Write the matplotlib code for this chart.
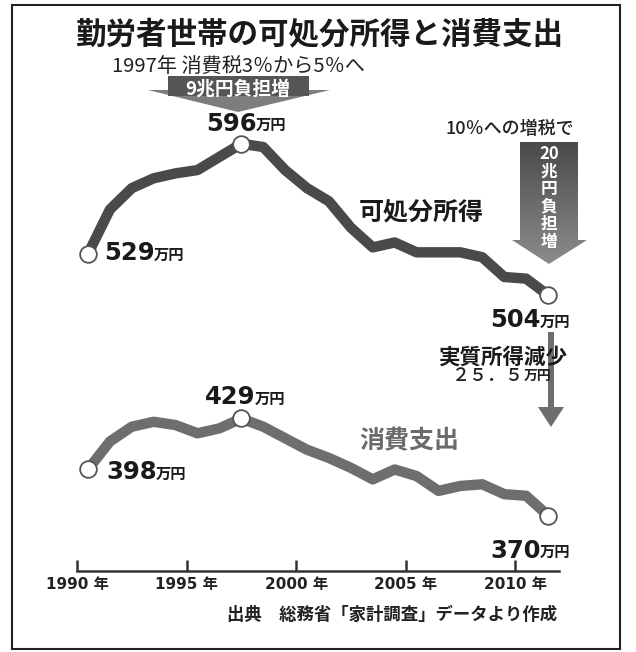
import numpy as np
import matplotlib
matplotlib.use('Agg')
import matplotlib.pyplot as plt
from matplotlib.patches import Polygon, Rectangle
from matplotlib.colors import LinearSegmentedColormap

plt.rcParams['font.family'] = ['Noto Sans CJK JP', 'DejaVu Sans']

# data (万円)
years = list(range(1990, 2012))
income = [529, 556, 569, 575, 578, 580, 588, 596, 594, 580, 569,
          561, 545, 533, 536, 530, 530, 530, 527, 515, 514, 504]
spending = [398, 415, 424, 427, 425, 420, 423, 429, 424, 417, 410,
            405, 399, 392, 398, 394, 385, 388, 389, 383, 382, 370]
tick_years = [1990, 1995, 2000, 2005, 2010]
tick_labels = ['1990 年', '1995 年', '2000 年', '2005 年', '2010 年']
marked = [1990, 1997, 2011]

W, H = 636, 652
fig = plt.figure(figsize=(W / 100, H / 100), dpi=100)
fig.patch.set_facecolor('white')

# main axes: x axis line at y=571px, from x=77px to 559px
ax = fig.add_axes([77 / W, (H - 571) / H, (559 - 77) / W, (571 - 60) / H])
ax.set_xlim(1989.5, 2011.5)
ax.set_ylim(336.3, 646.9)
ax.patch.set_visible(False)
for s in ['left', 'right', 'top']:
    ax.spines[s].set_visible(False)
ax.spines['bottom'].set_color('#333333')
ax.spines['bottom'].set_linewidth(1.8)
ax.set_yticks([])
ax.set_xticks([y - 0.5 for y in tick_years])
ax.set_xticklabels(tick_labels, family=['DejaVu Sans', 'Noto Sans CJK JP'],
                   fontweight='bold', fontsize=11, color='#222222')
ax.tick_params(axis='x', direction='in', length=8, width=1.8, pad=4, color='#333333')

ax.plot(years, income, color='#4a4a4a', lw=7.5, solid_joinstyle='round',
        solid_capstyle='round', clip_on=False, zorder=2)
ax.plot(years, spending, color='#6e6e6e', lw=7.5, solid_joinstyle='round',
        solid_capstyle='round', clip_on=False, zorder=2)

for series in [income, spending]:
    mx = [y for y in years if y in marked]
    my = [series[years.index(y)] for y in mx]
    ax.plot(mx, my, 'o', ms=12, mfc='white', mec='#555555', mew=1.3,
            clip_on=False, zorder=4)


def value_label(year, series, dx, dy):
    v = series[years.index(year)]
    t = ax.annotate(str(v), (year, v), xytext=(dx, dy), textcoords='offset pixels',
                    ha='left', va='center', fontsize=17.5, fontweight='bold',
                    family='DejaVu Sans', color='#1a1a1a', zorder=6,
                    annotation_clip=False)
    ax.annotate('万円', xy=(1, 0.1), xycoords=t, xytext=(-1, 0),
                textcoords='offset pixels', ha='left', va='bottom',
                fontsize=11, fontweight='bold', color='#1a1a1a',
                annotation_clip=False)


value_label(1990, income, 16, 1)
value_label(1997, income, -35, 20)
value_label(2011, income, -58, -25)
value_label(1990, spending, 18, -3)
value_label(1997, spending, -36, 21)
value_label(2011, spending, -58, -35)

# overlay in reference pixels for the frame, arrows and notes
deco = fig.add_axes([0, 0, 1, 1])
deco.axis('off')


def grad_poly(verts, c_top, c_bot):
    poly = Polygon(verts, closed=True, facecolor='none', edgecolor='none')
    deco.add_patch(poly)
    xs = [p[0] for p in verts]
    ys = [p[1] for p in verts]
    cmap = LinearSegmentedColormap.from_list('g', [c_top, c_bot])
    g = np.linspace(0, 1, 100).reshape(-1, 1)
    im = deco.imshow(g, cmap=cmap, aspect='auto', origin='upper',
                     extent=(min(xs), max(xs), max(ys), min(ys)), zorder=1)
    im.set_clip_path(poly)


# 9兆円 arrow
deco.add_patch(Polygon([(148, 90), (330, 90), (238, 112)], closed=True,
                       facecolor='#7d7d7d', edgecolor='none', zorder=1))
deco.add_patch(Rectangle((168, 76), 141, 20, facecolor='#555555',
                         edgecolor='none', zorder=1.5))
# 20兆円 arrow
grad_poly([(520, 142), (578, 142), (578, 240), (587, 240), (549, 264),
           (512, 240), (520, 240)], '#4a4a4a', '#8c8c8c')
# 実質所得減少 arrow
deco.add_patch(Polygon([(548, 332), (554, 332), (554, 407), (564, 407),
                        (551, 427), (538, 407), (548, 407)], closed=True,
                       facecolor='#6e6e6e', edgecolor='none', zorder=1))

deco.add_patch(Rectangle((12, 5), 608, 644, facecolor='none',
                         edgecolor='#222222', lw=1.5, zorder=5))

deco.set_xlim(0, W)
deco.set_ylim(H, 0)

deco.text(320, 35, '勤労者世帯の可処分所得と消費支出', ha='center', va='center',
          fontsize=22, fontweight='bold', color='#1a1a1a')
deco.text(112, 67, '1997年 消費税3％から5％へ', ha='left', va='center',
          fontsize=14.5, color='#222222')
deco.text(238, 87, '9兆円負担増', ha='center', va='center_baseline',
          fontsize=13.5, fontweight='bold', color='white', zorder=3)
deco.text(510, 129, '10％への増税で', ha='center', va='center', fontsize=13,
          fontweight='medium', color='#222222')
deco.text(549, 198, '20\n兆\n円\n負\n担\n増', ha='center', va='center',
          fontsize=12, fontweight='bold', color='white', linespacing=0.97,
          zorder=3)
deco.text(421, 212, '可処分所得', ha='center', va='center', fontsize=18,
          fontweight='bold', color='#1a1a1a')
deco.text(409, 441, '消費支出', ha='center', va='center', fontsize=18,
          fontweight='bold', color='#6a6a6a')
deco.text(503, 357, '実質所得減少', ha='center', va='center', fontsize=15.5,
          fontweight='bold', color='#1a1a1a', zorder=3)
t = deco.text(452, 376, '２５．５', ha='left', va='center', fontsize=13,
              fontweight='medium', color='#222222')
deco.annotate('万円', xy=(1, 0.1), xycoords=t, ha='left', va='bottom',
              fontsize=10, fontweight='bold', color='#222222')
deco.text(227, 615, '出典　総務省「家計調査」データより作成', ha='left',
          va='center', fontsize=12.5, fontweight='bold', color='#222222')

fig.savefig('out.png', dpi=100)
